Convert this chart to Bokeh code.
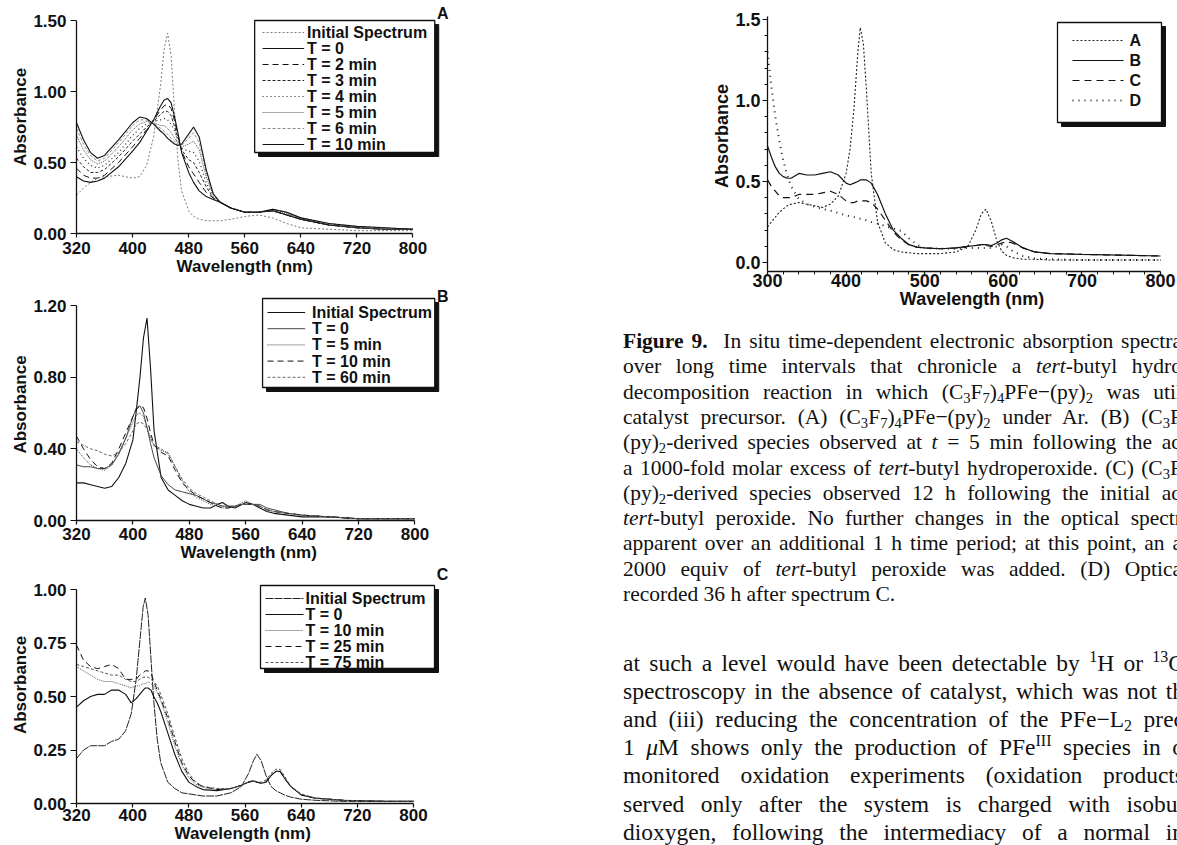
from bokeh.plotting import figure
from bokeh.models import Range1d, FixedTicker, PrintfTickFormatter, Label, Div, Title
from bokeh.layouts import row, column
from bokeh.embed import file_html
from bokeh.resources import INLINE
from bokeh.core.properties import value

SANS = "Liberation Sans"
SERIF = "Liberation Serif"

# ---------------- data: panel A ----------------
WL_A = [320, 330, 340, 350, 360, 380, 400, 410, 420, 430, 440, 445, 450, 455, 460, 465,
        470, 480, 487, 495, 505, 515, 525, 540, 560, 580, 600, 620, 640, 680, 720, 760, 800]
A_INIT = [0.27, 0.32, 0.36, 0.39, 0.40, 0.41, 0.39, 0.40, 0.48, 0.68, 1.05, 1.30, 1.41, 1.25, 0.85, 0.50,
          0.30, 0.16, 0.12, 0.10, 0.09, 0.09, 0.09, 0.10, 0.12, 0.13, 0.11, 0.07, 0.04, 0.03, 0.02, 0.02, 0.02]
A_T0 = [0.40, 0.37, 0.36, 0.37, 0.39, 0.47, 0.58, 0.64, 0.72, 0.80, 0.90, 0.94, 0.95, 0.92, 0.82, 0.70,
        0.57, 0.43, 0.36, 0.30, 0.26, 0.24, 0.22, 0.18, 0.15, 0.15, 0.16, 0.13, 0.10, 0.06, 0.04, 0.03, 0.03]
A_T2 = [0.46, 0.41, 0.39, 0.39, 0.41, 0.50, 0.61, 0.67, 0.73, 0.80, 0.87, 0.90, 0.91, 0.88, 0.79, 0.69,
        0.58, 0.47, 0.42, 0.36, 0.29, 0.25, 0.22, 0.18, 0.15, 0.15, 0.16, 0.13, 0.10, 0.06, 0.04, 0.03, 0.03]
A_T3 = [0.53, 0.47, 0.43, 0.43, 0.45, 0.54, 0.65, 0.70, 0.75, 0.79, 0.84, 0.86, 0.86, 0.83, 0.75, 0.67,
        0.59, 0.52, 0.50, 0.43, 0.33, 0.25, 0.22, 0.18, 0.15, 0.15, 0.16, 0.13, 0.10, 0.06, 0.04, 0.03, 0.03]
A_T4 = [0.61, 0.53, 0.48, 0.46, 0.48, 0.57, 0.69, 0.74, 0.77, 0.79, 0.80, 0.81, 0.80, 0.77, 0.72, 0.66,
        0.60, 0.58, 0.57, 0.51, 0.36, 0.26, 0.22, 0.18, 0.15, 0.15, 0.16, 0.14, 0.10, 0.06, 0.04, 0.03, 0.03]
A_T5 = [0.69, 0.59, 0.52, 0.49, 0.51, 0.61, 0.73, 0.77, 0.79, 0.78, 0.76, 0.76, 0.74, 0.71, 0.67, 0.64,
        0.61, 0.63, 0.65, 0.59, 0.40, 0.27, 0.22, 0.18, 0.15, 0.15, 0.17, 0.14, 0.11, 0.07, 0.04, 0.03, 0.03]
A_T6 = [0.74, 0.63, 0.55, 0.51, 0.53, 0.64, 0.76, 0.80, 0.80, 0.77, 0.74, 0.72, 0.70, 0.67, 0.65, 0.63,
        0.62, 0.67, 0.71, 0.64, 0.43, 0.28, 0.22, 0.18, 0.15, 0.15, 0.17, 0.15, 0.11, 0.07, 0.05, 0.04, 0.03]
A_T10 = [0.78, 0.66, 0.57, 0.53, 0.55, 0.66, 0.78, 0.82, 0.81, 0.77, 0.72, 0.70, 0.67, 0.65, 0.63, 0.62,
         0.63, 0.70, 0.75, 0.68, 0.45, 0.28, 0.22, 0.18, 0.15, 0.15, 0.17, 0.15, 0.11, 0.07, 0.05, 0.04, 0.03]

# ---------------- data: panel B ----------------
WL_B = [320, 330, 340, 350, 360, 370, 380, 390, 400, 405, 410, 415, 420, 425, 430, 440, 450, 460, 470,
        480, 490, 500, 510, 520, 527, 535, 545, 555, 560, 570, 580, 590, 600, 620, 640, 680, 720, 760, 800]
B_INIT = [0.21, 0.21, 0.20, 0.19, 0.18, 0.19, 0.24, 0.32, 0.45, 0.62, 0.80, 1.02, 1.13, 0.85, 0.50, 0.24,
          0.17, 0.14, 0.11, 0.09, 0.08, 0.07, 0.07, 0.09, 0.10, 0.08, 0.07, 0.09, 0.10, 0.09, 0.07, 0.05,
          0.04, 0.03, 0.02, 0.02, 0.01, 0.01, 0.01]
B_T0 = [0.31, 0.30, 0.30, 0.29, 0.29, 0.31, 0.37, 0.46, 0.58, 0.63, 0.64, 0.60, 0.52, 0.43, 0.35, 0.25,
        0.20, 0.17, 0.16, 0.15, 0.14, 0.12, 0.10, 0.09, 0.08, 0.08, 0.08, 0.09, 0.09, 0.09, 0.09, 0.07,
        0.06, 0.04, 0.03, 0.02, 0.01, 0.01, 0.01]
B_T5 = [0.40, 0.35, 0.31, 0.29, 0.28, 0.31, 0.38, 0.46, 0.55, 0.59, 0.60, 0.58, 0.52, 0.46, 0.42, 0.39,
        0.38, 0.30, 0.22, 0.16, 0.13, 0.11, 0.09, 0.08, 0.07, 0.07, 0.08, 0.10, 0.11, 0.09, 0.08, 0.06,
        0.05, 0.04, 0.03, 0.02, 0.01, 0.01, 0.01]
B_T10 = [0.47, 0.40, 0.34, 0.30, 0.29, 0.32, 0.40, 0.49, 0.58, 0.62, 0.64, 0.63, 0.57, 0.49, 0.42, 0.38,
         0.36, 0.28, 0.21, 0.17, 0.14, 0.12, 0.10, 0.08, 0.07, 0.07, 0.08, 0.09, 0.09, 0.09, 0.08, 0.06,
         0.05, 0.04, 0.03, 0.02, 0.01, 0.01, 0.01]
B_T60 = [0.44, 0.42, 0.40, 0.39, 0.37, 0.36, 0.38, 0.43, 0.50, 0.54, 0.55, 0.54, 0.51, 0.46, 0.42, 0.40,
         0.37, 0.30, 0.23, 0.18, 0.15, 0.13, 0.11, 0.09, 0.08, 0.08, 0.08, 0.09, 0.09, 0.09, 0.08, 0.06,
         0.05, 0.04, 0.03, 0.02, 0.01, 0.01, 0.01]

# ---------------- data: panel C ----------------
WL_C = [320, 330, 340, 350, 360, 370, 380, 390, 398, 405, 410, 415, 418, 422, 426, 430, 435, 440, 450,
        460, 470, 480, 490, 500, 520, 540, 555, 565, 572, 577, 583, 590, 597, 604, 610, 616, 625, 640,
        660, 700, 760, 800]
C_INIT = [0.21, 0.25, 0.27, 0.27, 0.27, 0.29, 0.30, 0.34, 0.42, 0.58, 0.75, 0.92, 0.96, 0.88, 0.68, 0.48,
          0.30, 0.19, 0.10, 0.07, 0.05, 0.045, 0.04, 0.035, 0.035, 0.05, 0.08, 0.14, 0.20, 0.23, 0.20,
          0.13, 0.08, 0.06, 0.05, 0.04, 0.03, 0.02, 0.015, 0.01, 0.01, 0.01]
C_T0 = [0.45, 0.48, 0.50, 0.51, 0.51, 0.53, 0.53, 0.51, 0.47, 0.49, 0.51, 0.53, 0.54, 0.54, 0.53, 0.50,
        0.47, 0.43, 0.33, 0.23, 0.15, 0.10, 0.08, 0.065, 0.06, 0.07, 0.085, 0.10, 0.105, 0.10, 0.095,
        0.10, 0.13, 0.15, 0.15, 0.12, 0.08, 0.04, 0.025, 0.015, 0.01, 0.01]
C_T10 = [0.64, 0.62, 0.60, 0.58, 0.57, 0.57, 0.56, 0.55, 0.54, 0.55, 0.55, 0.56, 0.56, 0.57, 0.56, 0.55,
         0.52, 0.48, 0.38, 0.27, 0.18, 0.12, 0.09, 0.075, 0.065, 0.07, 0.085, 0.10, 0.105, 0.10, 0.095,
         0.10, 0.13, 0.15, 0.15, 0.12, 0.08, 0.04, 0.025, 0.015, 0.01, 0.01]
C_T25 = [0.74, 0.67, 0.64, 0.63, 0.64, 0.65, 0.63, 0.58, 0.58, 0.58, 0.60, 0.61, 0.62, 0.62, 0.61, 0.57,
         0.53, 0.49, 0.40, 0.29, 0.19, 0.13, 0.095, 0.08, 0.065, 0.07, 0.085, 0.10, 0.105, 0.10, 0.095,
         0.10, 0.13, 0.15, 0.15, 0.12, 0.08, 0.04, 0.025, 0.015, 0.01, 0.01]
C_T75 = [0.65, 0.64, 0.63, 0.62, 0.61, 0.60, 0.60, 0.58, 0.57, 0.57, 0.58, 0.59, 0.59, 0.59, 0.58, 0.57,
         0.55, 0.51, 0.42, 0.31, 0.21, 0.14, 0.10, 0.08, 0.07, 0.07, 0.085, 0.10, 0.11, 0.10, 0.10,
         0.11, 0.14, 0.16, 0.16, 0.13, 0.08, 0.045, 0.025, 0.015, 0.01, 0.01]

# ---------------- data: panel D (Figure 9) ----------------
WL_D = [300, 305, 310, 315, 320, 325, 330, 340, 350, 360, 370, 380, 390, 400, 405, 410, 415, 418, 422,
        426, 432, 440, 450, 460, 470, 480, 490, 500, 520, 540, 555, 565, 572, 578, 585, 592, 598, 604,
        612, 625, 640, 660, 700, 750, 800]
D_A = [0.22, 0.25, 0.28, 0.31, 0.33, 0.35, 0.36, 0.37, 0.36, 0.35, 0.34, 0.36, 0.41, 0.55, 0.70, 0.95,
       1.30, 1.45, 1.35, 1.05, 0.55, 0.25, 0.12, 0.08, 0.065, 0.06, 0.055, 0.055, 0.055, 0.065, 0.10,
       0.20, 0.30, 0.33, 0.25, 0.13, 0.07, 0.045, 0.03, 0.02, 0.02, 0.015, 0.015, 0.015, 0.015]
D_B = [0.72, 0.65, 0.59, 0.55, 0.53, 0.52, 0.52, 0.55, 0.54, 0.54, 0.55, 0.56, 0.54, 0.49, 0.48, 0.49,
       0.50, 0.51, 0.51, 0.51, 0.49, 0.42, 0.30, 0.20, 0.15, 0.11, 0.095, 0.09, 0.085, 0.09, 0.10, 0.105,
       0.11, 0.11, 0.105, 0.12, 0.14, 0.15, 0.13, 0.09, 0.065, 0.055, 0.05, 0.045, 0.04]
D_C = [0.51, 0.47, 0.44, 0.41, 0.40, 0.40, 0.40, 0.42, 0.42, 0.42, 0.43, 0.44, 0.42, 0.38, 0.37, 0.37,
       0.38, 0.38, 0.38, 0.38, 0.37, 0.33, 0.26, 0.19, 0.14, 0.11, 0.095, 0.09, 0.085, 0.09, 0.10, 0.105,
       0.11, 0.105, 0.10, 0.11, 0.12, 0.13, 0.12, 0.09, 0.065, 0.055, 0.05, 0.045, 0.04]
D_D = [1.30, 1.08, 0.90, 0.75, 0.63, 0.54, 0.47, 0.39, 0.36, 0.345, 0.33, 0.32, 0.305, 0.29, 0.285, 0.28,
       0.27, 0.27, 0.265, 0.26, 0.25, 0.24, 0.225, 0.21, 0.195, 0.15, 0.11, 0.09, 0.085, 0.085, 0.09,
       0.09, 0.09, 0.09, 0.09, 0.10, 0.11, 0.10, 0.07, 0.04, 0.025, 0.02, 0.015, 0.015, 0.015]

# ticks
X_TICKS_LEFT = [320, 400, 480, 560, 640, 720, 800]
Y_TICKS_A = [0.0, 0.5, 1.0, 1.5]
Y_TICKS_B = [0.0, 0.4, 0.8, 1.2]
Y_TICKS_C = [0.0, 0.25, 0.5, 0.75, 1.0]
X_TICKS_D = [300, 400, 500, 600, 700, 800]
X_MINOR_D = [320, 340, 360, 380, 420, 440, 460, 480, 520, 540, 560, 580, 620, 640, 660, 680, 720, 740, 760, 780]
Y_TICKS_D = [0.0, 0.5, 1.0, 1.5]
Y_MINOR_D = [0.1, 0.2, 0.3, 0.4, 0.6, 0.7, 0.8, 0.9, 1.1, 1.2, 1.3, 1.4]

SERIES_A = [("Initial Spectrum", A_INIT, "#7a7a7a", "2 2", 1.0),
            ("T = 0", A_T0, "#111111", "solid", 1.1),
            ("T = 2 min", A_T2, "#111111", "6 4", 1.0),
            ("T = 3 min", A_T3, "#222222", "3 2", 1.0),
            ("T = 4 min", A_T4, "#222222", "1 3", 1.2),
            ("T = 5 min", A_T5, "#555555", "1 1", 1.0),
            ("T = 6 min", A_T6, "#8a8a8a", "3 2", 1.0),
            ("T = 10 min", A_T10, "#111111", "solid", 1.1)]
SERIES_B = [("Initial Spectrum", B_INIT, "#111111", "solid", 1.1),
            ("T = 0", B_T0, "#333333", "solid", 0.9),
            ("T = 5 min", B_T5, "#444444", "1 1", 1.0),
            ("T = 10 min", B_T10, "#111111", "6 4", 1.0),
            ("T = 60 min", B_T60, "#666666", "3 2", 1.0)]
SERIES_C = [("Initial Spectrum", C_INIT, "#222222", "8 1", 1.0),
            ("T = 0", C_T0, "#111111", "solid", 1.1),
            ("T = 10 min", C_T10, "#555555", "1 1", 1.0),
            ("T = 25 min", C_T25, "#111111", "6 4", 1.0),
            ("T = 75 min", C_T75, "#555555", "3 2", 1.0)]
SERIES_D = [("A", D_A, "#222222", "2 2", 1.1),
            ("B", D_B, "#111111", "solid", 1.2),
            ("C", D_C, "#111111", "7 5", 1.2),
            ("D", D_D, "#222222", "1 5", 2.0)]


def make_panel(fig_box, frame_box, x_start, sx, y_bottom, sy, xticks, yticks, yfmt,
               font_px, ytick_out, ylab_standoff, xlab_standoff, xminor=None, yminor=None,
               xbounds=None, ybounds=None):
    fx, fy, fw, fh = fig_box            # figure box in page px
    fl, ft, fr, fb = frame_box          # frame edges in page px
    x_end = x_start + (fr - fl) / sx
    y_end = y_bottom + (fb - ft) / sy
    p = figure(width=fw, height=fh, output_backend="svg", toolbar_location=None,
               x_range=Range1d(x_start, x_end), y_range=Range1d(y_bottom, y_end),
               min_border_left=fl - fx, min_border_right=fx + fw - fr,
               min_border_top=ft - fy, min_border_bottom=fy + fh - fb)
    p.outline_line_color = None
    p.xgrid.visible = False
    p.ygrid.visible = False
    p.background_fill_color = "white"
    p.border_fill_color = "white"
    p.xaxis.ticker = FixedTicker(ticks=xticks, minor_ticks=xminor or [])
    p.yaxis.ticker = FixedTicker(ticks=yticks, minor_ticks=yminor or [])
    p.yaxis.formatter = PrintfTickFormatter(format=yfmt)
    p.xaxis.formatter = PrintfTickFormatter(format="%d")
    p.xaxis.bounds = xbounds
    p.yaxis.bounds = ybounds
    for ax in (p.xaxis, p.yaxis):
        ax.axis_line_width = 1.3
        ax.axis_line_color = "#111111"
        ax.major_tick_line_color = "#111111"
        ax.major_tick_line_width = 1.2
        ax.minor_tick_line_color = "#111111"
        ax.major_tick_in = 0
        ax.minor_tick_in = 0
        ax.major_label_text_font = SANS
        ax.major_label_text_font_style = "bold"
        ax.major_label_text_font_size = f"{font_px}px"
        ax.major_label_text_color = "#111111"
    p.xaxis.major_tick_out = 4
    p.xaxis.minor_tick_out = 3
    p.yaxis.major_tick_out = ytick_out
    p.yaxis.minor_tick_out = 3
    p.xaxis.major_label_standoff = xlab_standoff
    p.yaxis.major_label_standoff = ylab_standoff
    p.yaxis.axis_label = "Absorbance"
    p.yaxis.axis_label_text_font = SANS
    p.yaxis.axis_label_text_font_style = "bold"
    p.yaxis.axis_label_text_font_size = f"{font_px}px"
    p.yaxis.axis_label_text_color = "#111111"
    p.yaxis.axis_label_standoff = 0

    def conv(px, py):
        return x_start + (px - fl) / sx, y_bottom + (fb - py) / sy
    return p, conv


def add_series(p, wl, series):
    for name, ys, color, dash, lw in series:
        p.line(wl, ys, line_color=color, line_dash=dash, line_width=lw)


def add_legend(p, conv, box, row0, step, sample, text_x, series, font_px, shadow=4):
    l, t, r, b = box
    sx1, sy1 = conv(l + shadow, t + shadow)
    sx2, sy2 = conv(r + shadow, b + shadow)
    p.quad(left=[sx1], right=[sx2], top=[sy1], bottom=[sy2], fill_color="#111111", line_color="#111111")
    bx1, by1 = conv(l, t)
    bx2, by2 = conv(r, b)
    p.quad(left=[bx1], right=[bx2], top=[by1], bottom=[by2], fill_color="white",
           line_color="#111111", line_width=1.3)
    tx, ty, labels = [], [], []
    for i, (name, ys, color, dash, lw) in enumerate(series):
        py = row0 + i * step
        xa, ya = conv(sample[0], py)
        xb, _ = conv(sample[1], py)
        p.line([xa, xb], [ya, ya], line_color=color, line_dash=dash, line_width=lw)
        x_t, y_t = conv(text_x, py)
        tx.append(x_t)
        ty.append(y_t)
        labels.append(name)
    p.text(x=tx, y=ty, text=labels, text_font=value(SANS), text_font_style="bold",
           text_font_size=f"{font_px}px", text_baseline="middle", text_align="left",
           text_color="#111111")


def add_letter(p, conv, px, py, text, font_px):
    x, y = conv(px, py)
    p.add_layout(Label(x=x, y=y, text=text, text_font=SANS, text_font_style="bold",
                       text_font_size=f"{font_px}px", text_align="center",
                       text_baseline="middle", text_color="#111111"))


def add_xtitle(p, offset, font_px, standoff=0):
    p.add_layout(Title(text="Wavelength (nm)", align="left", offset=offset, standoff=standoff,
                       vertical_align="top", text_font=SANS, text_font_style="bold",
                       text_font_size=f"{font_px}px", text_color="#111111"), "below")


# ---------------- panel A ----------------
pA, cA = make_panel((0, 0, 460, 288), (72, 0, 460, 233), 320, 340 / 480, 0.0, 142.0,
                    X_TICKS_LEFT, Y_TICKS_A, "%.2f", 17, 6, 4, 4,
                    xbounds=(320, 800), ybounds=(0, 1.5))
add_series(pA, WL_A, SERIES_A)
add_legend(pA, cA, (252, 20, 434, 152), 32, 16, (260, 302), 305, SERIES_A, 16)
add_letter(pA, cA, 442, 13, "A", 16)
add_xtitle(pA, 100, 17)

# ---------------- panel B ----------------
pB, cB = make_panel((0, 288, 460, 278), (72, 288, 460, 520), 320, 342 / 480, 0.0, 215 / 1.2,
                    X_TICKS_LEFT, Y_TICKS_B, "%.2f", 17, 6, 4, 3,
                    xbounds=(320, 800), ybounds=(0, 1.2))
add_series(pB, WL_B, SERIES_B)
add_legend(pB, cB, (260, 298, 434, 387), 312, 16.2, (265, 303), 310, SERIES_B, 16)
add_letter(pB, cB, 442, 296, "B", 16)
add_xtitle(pB, 104, 17)

# ---------------- panel C ----------------
pC, cC = make_panel((0, 566, 460, 278), (76, 566, 460, 803), 320, 337 / 480, 0.0, 214.0,
                    X_TICKS_LEFT, Y_TICKS_C, "%.2f", 17, 6, 4, 1,
                    xbounds=(320, 800), ybounds=(0, 1.0))
add_series(pC, WL_C, SERIES_C)
add_legend(pC, cC, (260, 585, 434, 668), 598, 16, (265, 303), 305, SERIES_C, 16)
add_letter(pC, cC, 442, 574, "C", 16)
add_xtitle(pC, 98, 17)

# ---------------- panel D ----------------
pD, cD = make_panel((460, 0, 716, 322), (767, 0, 1176, 271), 300, 393 / 500, -9 / 162, 162.0,
                    X_TICKS_D, Y_TICKS_D, "%.1f", 18, 5, 2, -2,
                    xminor=X_MINOR_D, yminor=Y_MINOR_D,
                    xbounds=(300, 800), ybounds=(-9 / 162, 1.52))
add_series(pD, WL_D, SERIES_D)
add_legend(pD, cD, (1057, 22, 1161, 122), 40, 20, (1072, 1123), 1129, SERIES_D, 16)
pD.xaxis.axis_label = "Wavelength (nm)"
pD.xaxis.axis_label_text_font = SANS
pD.xaxis.axis_label_text_font_style = "bold"
pD.xaxis.axis_label_text_font_size = "18px"
pD.xaxis.axis_label_text_color = "#111111"
pD.xaxis.axis_label_standoff = -1

# ---------------- caption and body text ----------------
CAPTION = [
    ("<b>Figure 9.</b>&nbsp; In situ time-dependent electronic absorption spectra", True),
    ("over long time intervals that chronicle a <i>tert</i>-butyl hydro", True),
    ("decomposition reaction in which (C<sub>3</sub>F<sub>7</sub>)<sub>4</sub>PFe&minus;(py)<sub>2</sub> was util", True),
    ("catalyst precursor. (A) (C<sub>3</sub>F<sub>7</sub>)<sub>4</sub>PFe&minus;(py)<sub>2</sub> under Ar. (B) (C<sub>3</sub>F", True),
    ("(py)<sub>2</sub>-derived species observed at <i>t</i> = 5 min following the ad", True),
    ("a 1000-fold molar excess of <i>tert</i>-butyl hydroperoxide. (C) (C<sub>3</sub>F", True),
    ("(py)<sub>2</sub>-derived species observed 12 h following the initial ad", True),
    ("<i>tert</i>-butyl peroxide. No further changes in the optical spectr", True),
    ("apparent over an additional 1 h time period; at this point, an a", True),
    ("2000 equiv of <i>tert</i>-butyl peroxide was added. (D) Optica", True),
    ("recorded 36 h after spectrum C.", False),
]
BODY = [
    "at such a level would have been detectable by <sup>1</sup>H or <sup>13</sup>C",
    "spectroscopy in the absence of catalyst, which was not th",
    "and (iii) reducing the concentration of the PFe&minus;L<sub>2</sub> prec",
    "1 <i>&mu;</i>M shows only the production of PFe<sup>III</sup> species in o",
    "monitored oxidation experiments (oxidation products",
    "served only after the system is charged with isobut",
    "dioxygen, following the intermediacy of a normal in",
]

SUBSUP = "<style>sub,sup{font-size:68%;line-height:0;} sub{vertical-align:-0.25em;} sup{vertical-align:0.55em;}</style>"
lines_html = []
for i, (txt, just) in enumerate(CAPTION):
    top = 4 + 25.3 * i
    align = "text-align:justify;text-align-last:justify;" if just else "text-align:left;"
    lines_html.append(
        f'<div style="position:absolute;left:158px;top:{top:.1f}px;width:559px;white-space:nowrap;'
        f'font-family:\'{SERIF}\';font-size:21.5px;line-height:21.5px;color:#111;{align}">{txt}</div>')
for i, txt in enumerate(BODY):
    top = 325 + 28.1 * i
    lines_html.append(
        f'<div style="position:absolute;left:158px;top:{top:.1f}px;width:561px;white-space:nowrap;'
        f'font-family:\'{SERIF}\';font-size:23.5px;line-height:23.5px;color:#111;'
        f'text-align:justify;text-align-last:justify;">{txt}</div>')
html = (SUBSUP + '<div style="position:relative;width:716px;height:522px;overflow:hidden;background:white;">'
        + "".join(lines_html) + "</div>")
div = Div(text=html, width=716, height=522, styles={"overflow": "hidden"})

layout = row(column(pA, pB, pC, spacing=0), column(pD, div, spacing=0), spacing=0)
open("out.html", "w").write(file_html(layout, INLINE))
